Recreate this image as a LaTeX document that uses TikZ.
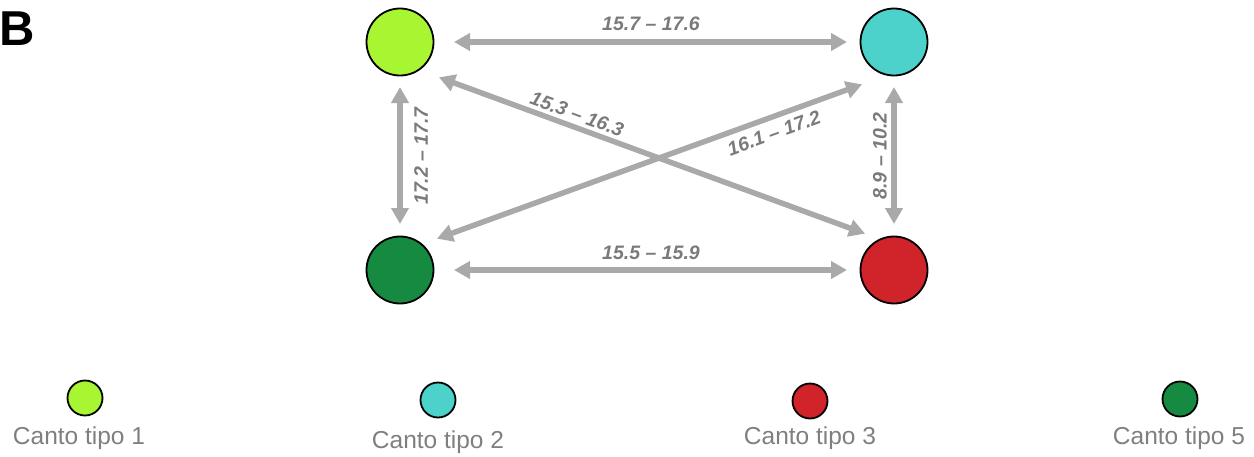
\documentclass[tikz,border=0pt]{standalone}
\usepackage{fontspec}
\setmainfont{Liberation Sans}
\usetikzlibrary{arrows.meta}
\definecolor{lime}{HTML}{A8F532}
\definecolor{cyanc}{HTML}{4DD2CB}
\definecolor{redc}{HTML}{D0232A}
\definecolor{greenc}{HTML}{178A42}
\definecolor{arrgray}{HTML}{A9A9A9}
\definecolor{lblgray}{HTML}{7A7A7A}
\definecolor{leggray}{HTML}{7F7F7F}
\tikzset{
  bigdot/.style={circle, draw=black, line width=1.8pt, minimum size=67pt, inner sep=0pt},
  smalldot/.style={circle, draw=black, line width=1.8pt, minimum size=35pt, inner sep=0pt},
  link/.style={arrgray, line width=5.5pt, {Triangle[length=16pt,width=17pt]}-{Triangle[length=16pt,width=17pt]}, shorten <=1pt, shorten >=1pt},
  lbl/.style={text=lblgray, font=\fontsize{19.5}{21}\selectfont\bfseries\itshape, inner sep=0pt},
  legtext/.style={text=leggray, font=\fontsize{24.5}{27}\selectfont, inner sep=0pt}
}
\begin{document}
\begin{tikzpicture}[x=1pt,y=-1pt]
\useasboundingbox (0,0) rectangle (1254,456);
\node[font=\fontsize{49}{50}\selectfont\bfseries, inner sep=0pt] (B) at (17,29) {B};
% main nodes
\node[bigdot, fill=lime] (t1) at (400,42) {};
\node[bigdot, fill=cyanc] (t2) at (894,42) {};
\node[bigdot, fill=greenc] (t5) at (400,270) {};
\node[bigdot, fill=redc] (t3) at (894,270) {};
% anchor coordinates for arrow ends
\coordinate (a1) at (453,42); \coordinate (a2) at (848,42);
\coordinate (b1) at (453,270); \coordinate (b2) at (848,270);
\coordinate (c1) at (400,86); \coordinate (c2) at (400,225);
\coordinate (d1) at (894,86); \coordinate (d2) at (894,225);
\coordinate (e1) at (438,77); \coordinate (e2) at (866,234);
\coordinate (f1) at (436,239); \coordinate (f2) at (863,84);
\draw[link] (a1) -- (a2);
\draw[link] (b1) -- (b2);
\draw[link] (c1) -- (c2);
\draw[link] (d1) -- (d2);
\draw[link] (e1) -- (e2);
\draw[link] (f1) -- (f2);
% labels
\node[lbl] (l12) at (651,24) {15.7 -- 17.6};
\node[lbl] (l53) at (651,253) {15.5 -- 15.9};
\node[lbl, rotate=90] (l15) at (421,156) {17.2 -- 17.7};
\node[lbl, rotate=90] (l23) at (880,156) {8.9 -- 10.2};
\node[lbl, rotate=-20] (l13) at (577,114) {15.3 -- 16.3};
\node[lbl, rotate=20] (l25) at (774,133) {16.1 -- 17.2};
% legend
\node[smalldot, fill=lime] (g1) at (85,398) {};
\node[smalldot, fill=cyanc] (g2) at (438,400) {};
\node[smalldot, fill=redc] (g3) at (810,401) {};
\node[smalldot, fill=greenc] (g5) at (1180,399) {};
\node[legtext] (tx1) at (79,438) {Canto tipo 1};
\node[legtext] (tx2) at (438,442) {Canto tipo 2};
\node[legtext] (tx3) at (810,438) {Canto tipo 3};
\node[legtext] (tx5) at (1179,438) {Canto tipo 5};
\end{tikzpicture}
\end{document}
